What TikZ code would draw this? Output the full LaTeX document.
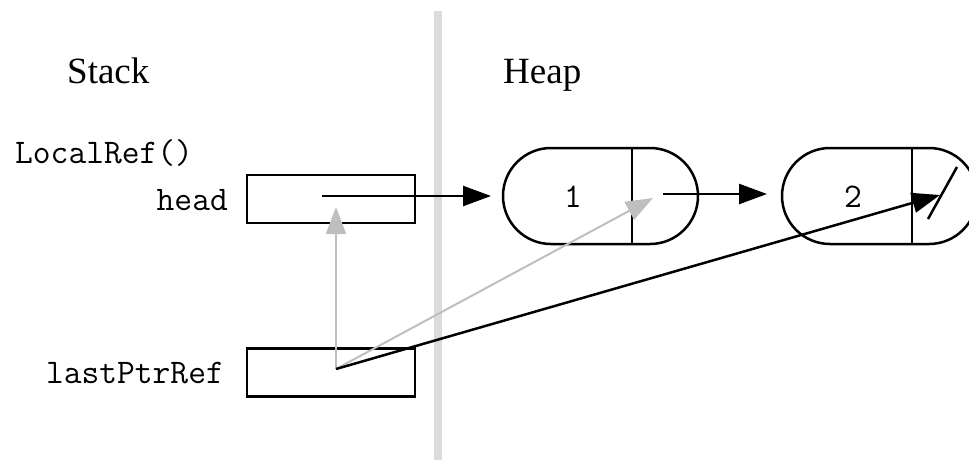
\documentclass[tikz,border=0pt]{standalone}
\usepackage{fontspec}
\setmainfont{Liberation Serif}
\usetikzlibrary{arrows.meta}
\tikzset{
  title/.style={font=\fontsize{37}{40}\selectfont, anchor=base west, inner sep=0pt},
  code/.style={font=\ttfamily\fontsize{34.5}{36}\selectfont, inner sep=0pt},
  cell/.style={draw, line width=2.5pt, minimum width=168pt, minimum height=48pt, inner sep=0pt},
  listnode/.style={draw, line width=2.5pt, rounded corners=48pt, minimum width=195pt, minimum height=96pt, inner sep=0pt},
  ptr/.style={line width=2.5pt, -{Triangle[length=28pt,width=20pt]}},
  gptr/.style={draw=black!25, line width=2pt, -{Triangle[length=27pt,width=20pt]}},
}
\begin{document}
\begin{tikzpicture}[x=1pt,y=-1pt]
\useasboundingbox (0,0) rectangle (969,460);
\fill[black!14] (434,11) rectangle (442,460);
\node[title] (stack) at (67,84) {Stack};
\node[title] (heap) at (503,84) {Heap};
\node[code, anchor=base west] (fn) at (15,163) {LocalRef()};
\node[cell] (headbox) at (331,199) {};
\node[cell] (lastbox) at (331,372.5) {};
\node[code, anchor=base east] (headlbl) at (228,210) {head};
\node[code, anchor=base east] (lastlbl) at (224,383) {lastPtrRef};
\node[listnode] (n1) at (600.5,196) {};
\node[listnode] (n2) at (879.5,196) {};
\node[code] (v1) at (573,197) {1};
\node[code] (v2) at (853,197) {2};
\draw[line width=2.5pt] (n1.north west -| 632,0) coordinate (d1t) -- (n1.south west -| 632,0) coordinate (d1b);
\draw[line width=2.5pt] (n2.north west -| 912,0) coordinate (d2t) -- (n2.south west -| 912,0) coordinate (d2b);
\coordinate (hp) at (322,196);
\coordinate (lp) at (336,369);
\coordinate (n1p) at (663,194);
\coordinate (n1tip) at (653,198);
\coordinate (n2tip) at (940,195);
\coordinate (hptip) at (336,207);
\coordinate (s1) at (928,219);
\coordinate (s2) at (957,167);
\draw[line width=2.5pt] (s1) -- (s2);
\draw[ptr] (hp) -- (491,196);
\draw[ptr] (n1p) -- (767,194);
\draw[gptr] (lp) -- (hptip);
\draw[gptr] (lp) -- (n1tip);
\draw[ptr] (lp) -- (n2tip);
\end{tikzpicture}
\end{document}
